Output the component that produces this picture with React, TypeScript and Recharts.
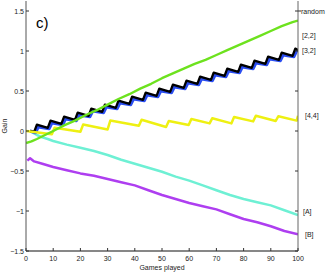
import React from 'react';
import { LineChart, Line, XAxis, YAxis } from 'recharts';

// ---- data ----
const greenGames = [0, 2, 4, 7, 10, 14, 18, 22, 26, 30, 34, 38, 42, 46, 50, 54, 58, 62, 66, 70, 74, 78, 82, 86, 90, 94, 98, 100];
const greenGain = [-0.15, -0.13, -0.1, -0.05, 0.0, 0.07, 0.13, 0.2, 0.26, 0.33, 0.4, 0.46, 0.53, 0.59, 0.66, 0.72, 0.78, 0.84, 0.89, 0.95, 1.01, 1.07, 1.13, 1.19, 1.25, 1.31, 1.36, 1.38];

const blackGames = [1.5, 3, 4, 8, 9, 13, 14, 18, 19, 23, 24, 28, 29, 33, 34, 38, 39, 43, 44, 48, 49, 53, 54, 58, 59, 63, 64, 68, 69, 73, 74, 78, 79, 83, 84, 88, 89, 93, 94, 98, 99, 100];
const blackGain = [0.0, -0.01, 0.08, 0.04, 0.13, 0.09, 0.18, 0.14, 0.23, 0.19, 0.28, 0.24, 0.33, 0.29, 0.38, 0.34, 0.43, 0.39, 0.48, 0.44, 0.53, 0.49, 0.58, 0.54, 0.63, 0.59, 0.68, 0.64, 0.73, 0.69, 0.78, 0.74, 0.83, 0.79, 0.88, 0.84, 0.93, 0.89, 0.98, 0.94, 1.03, 1.01];

const blueGames = [1.5, 3.5, 4.5, 8.5, 9.5, 13.5, 14.5, 18.5, 19.5, 23.5, 24.5, 28.5, 29.5, 33.5, 34.5, 38.5, 39.5, 43.5, 44.5, 48.5, 49.5, 53.5, 54.5, 58.5, 59.5, 63.5, 64.5, 68.5, 69.5, 73.5, 74.5, 78.5, 79.5, 83.5, 84.5, 88.5, 89.5, 93.5, 94.5, 98.5, 99.5, 100];
const blueGain = [0.0, -0.02, 0.05, 0.03, 0.1, 0.08, 0.15, 0.13, 0.2, 0.18, 0.25, 0.23, 0.3, 0.28, 0.35, 0.33, 0.4, 0.38, 0.45, 0.43, 0.5, 0.48, 0.55, 0.53, 0.6, 0.58, 0.65, 0.63, 0.7, 0.68, 0.75, 0.73, 0.8, 0.78, 0.85, 0.83, 0.9, 0.88, 0.95, 0.93, 1.0, 0.99];

const yellowGames = [0, 9.5, 10.5, 20, 21, 30, 31, 41.5, 42.5, 51.5, 52.5, 59.8, 60.8, 67.5, 68.5, 75.5, 76.5, 83.5, 84.5, 91.8, 92.8, 99.5, 100];
const yellowGain = [0.0, -0.04, 0.04, -0.01, 0.08, 0.02, 0.13, 0.065, 0.14, 0.05, 0.125, 0.075, 0.15, 0.095, 0.16, 0.095, 0.175, 0.12, 0.19, 0.125, 0.185, 0.13, 0.19];

const cyanGames = [2, 4, 6, 8, 10, 15, 20, 25, 30, 35, 40, 45, 50, 55, 60, 65, 70, 75, 80, 85, 90, 95, 100];
const cyanGain = [-0.01, -0.05, -0.08, -0.1, -0.125, -0.17, -0.21, -0.25, -0.3, -0.36, -0.41, -0.46, -0.51, -0.57, -0.62, -0.68, -0.74, -0.8, -0.85, -0.89, -0.93, -0.99, -1.05];

const purpleGames = [0.5, 1.5, 3, 6, 10, 15, 20, 25, 30, 35, 40, 45, 50, 55, 60, 65, 70, 75, 80, 85, 90, 95, 100];
const purpleGain = [-0.37, -0.34, -0.38, -0.41, -0.45, -0.49, -0.53, -0.56, -0.6, -0.64, -0.68, -0.74, -0.8, -0.85, -0.9, -0.94, -0.98, -1.04, -1.1, -1.14, -1.19, -1.25, -1.29];

const xTicks = [0, 10, 20, 30, 40, 50, 60, 70, 80, 90, 100];
const yTicks = [-1.5, -1, -0.5, 0, 0.5, 1, 1.5];
const rightLabels = ['random', '[2,2]', '[3,2]', '[4,4]', '[A]', '[B]'];
const rightLabelValues = [1.5, 1.2, 1.01, 0.2, -1.01, -1.29];

const toPts = (games: number[], gains: number[]) => games.map((g, i) => ({ game: g, gain: gains[i] }));

const FONT = '"Liberation Sans", Arial, Helvetica, sans-serif';
const AX = '#333';
const TXT = '#222';
const fmt = (v: number) => String(v).replace('-', '\u2212');

const LeftTick = (props: any) => {
  const { x, y, payload } = props;
  return (
    <g>
      <line x1={x} y1={y} x2={x + 3} y2={y} stroke={AX} strokeWidth={1} />
      <text x={x - 2} y={y} dy={2.5} textAnchor="end" fontSize={7} fontFamily={FONT} fill={TXT}>{fmt(payload.value)}</text>
    </g>
  );
};

const BottomTick = (props: any) => {
  const { x, y, payload } = props;
  return (
    <g>
      <line x1={x} y1={y} x2={x} y2={y - 3} stroke={AX} strokeWidth={1} />
      <text x={x} y={y + 10} textAnchor="middle" fontSize={7} fontFamily={FONT} fill={TXT}>{fmt(payload.value)}</text>
    </g>
  );
};

const TopTick = (props: any) => {
  const { x, y } = props;
  return <line x1={x} y1={y} x2={x} y2={y + 3} stroke={AX} strokeWidth={1} />;
};

const labelDx: Record<string, number> = { 'random': 3, '[2,2]': 4, '[3,2]': 4, '[4,4]': 7, '[A]': 5, '[B]': 7 };

const RightTick = (props: any) => {
  const { x, y, payload } = props;
  const v = payload.value;
  const isFrame = yTicks.indexOf(v) >= 0;
  const li = rightLabelValues.indexOf(v);
  return (
    <g>
      {isFrame && <line x1={x} y1={y} x2={x - 3} y2={y} stroke={AX} strokeWidth={1} />}
      {li === 0 && <line x1={x} y1={y} x2={x + 3} y2={y} stroke={AX} strokeWidth={1} />}
      {li >= 0 && (
        <text x={x + labelDx[rightLabels[li]]} y={y} dy={2.5} textAnchor="start" fontSize={7} fontFamily={FONT} fill={TXT}>
          {rightLabels[li]}
        </text>
      )}
    </g>
  );
};

const rightTicks = [...yTicks.filter((t) => rightLabelValues.indexOf(t) < 0), ...rightLabelValues].sort((a, b) => a - b);

export default function App() {
  const series = [
    { key: 'cyan', data: toPts(cyanGames, cyanGain), color: '#6ef0d4', w: 2.5 },
    { key: 'purple', data: toPts(purpleGames, purpleGain), color: '#ae3ef0', w: 2.5 },
    { key: 'blue', data: toPts(blueGames, blueGain), color: '#2a4df0', w: 3.2 },
    { key: 'black', data: toPts(blackGames, blackGain), color: '#000000', w: 2.3 },
    { key: 'yellow', data: toPts(yellowGames, yellowGain), color: '#eef012', w: 2.5 },
    { key: 'green', data: toPts(greenGames, greenGain), color: '#6de21e', w: 2.4 },
  ];
  return (
    <div style={{ position: 'absolute', left: 0, top: 0, width: 327, height: 273, background: '#fff' }}>
      <LineChart width={327} height={273} margin={{ top: 1, right: 0, bottom: 0, left: 0 }}>
        <XAxis
          xAxisId="b"
          dataKey="game"
          type="number"
          domain={[0, 100]}
          ticks={xTicks}
          interval={0}
          height={22}
          tickSize={0}
          tickMargin={0}
          tickLine={false}
          axisLine={{ stroke: '#111', strokeWidth: 1.2 }}
          tick={<BottomTick />}
          allowDataOverflow
        />
        <XAxis
          xAxisId="t"
          orientation="top"
          dataKey="game"
          type="number"
          domain={[0, 100]}
          ticks={xTicks}
          interval={0}
          height={0}
          tickSize={0}
          tickMargin={0}
          tickLine={false}
          axisLine={{ stroke: AX, strokeWidth: 1 }}
          tick={<TopTick />}
          allowDataOverflow
        />
        <YAxis
          yAxisId="l"
          type="number"
          domain={[-1.5, 1.625]}
          ticks={yTicks}
          interval={0}
          width={26}
          tickSize={0}
          tickMargin={0}
          tickLine={false}
          axisLine={{ stroke: '#555', strokeWidth: 1 }}
          tick={<LeftTick />}
          allowDataOverflow
        />
        <YAxis
          yAxisId="r"
          orientation="right"
          type="number"
          domain={[-1.5, 1.625]}
          ticks={rightTicks}
          interval={0}
          width={29}
          tickSize={0}
          tickMargin={0}
          tickLine={false}
          axisLine={{ stroke: '#666', strokeWidth: 1 }}
          tick={<RightTick />}
          allowDataOverflow
        />
        {series.map((s) => (
          <Line
            key={s.key}
            xAxisId="b"
            yAxisId="l"
            data={s.data}
            dataKey="gain"
            type="linear"
            stroke={s.color}
            strokeWidth={s.w}
            dot={false}
            activeDot={false}
            isAnimationActive={false}
            strokeLinejoin="round"
          />
        ))}
      </LineChart>
      <svg width={327} height={273} style={{ position: 'absolute', left: 0, top: 0, pointerEvents: 'none' }}>
        <text x={36} y={28} fontSize={15} fontFamily={FONT} fill="#000">c)</text>
        <text x={0} y={0} transform="translate(7,126) rotate(-90)" textAnchor="middle" fontSize={7} fontFamily={FONT} fill={TXT}>Gain</text>
        <text x={162} y={270} textAnchor="middle" fontSize={7} fontFamily={FONT} fill={TXT}>Games played</text>
      </svg>
    </div>
  );
}
